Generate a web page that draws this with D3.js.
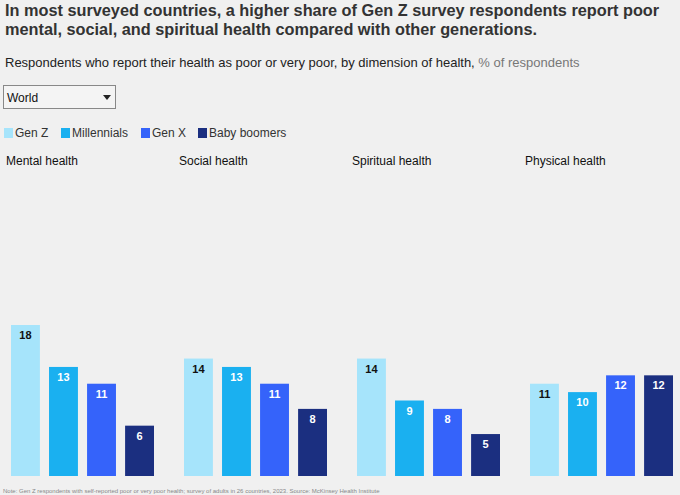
<!DOCTYPE html>
<html><head><meta charset="utf-8">
<script src="https://cdn.jsdelivr.net/npm/d3@7"></script>
<style>
body{margin:0;background:#f0f0f0;font-family:"Liberation Sans",Arial,sans-serif;}
</style></head>
<body><svg width="680" height="495"></svg>
<script>
// data
var dimensions = ["Mental health", "Social health", "Spiritual health", "Physical health"];
var generations = ["Gen Z", "Millennials", "Gen X", "Baby boomers"];
var colors = ["#a6e4fb", "#1ab0f0", "#3563fa", "#1b2f80"];
var genZ = [18, 14, 14, 11];
var millennials = [13, 13, 9, 10];
var genX = [11, 11, 8, 12];
var boomers = [6, 8, 5, 12];

var series = [genZ, millennials, genX, boomers];

var svg = d3.select("svg");

svg.append("text").attr("x", 5).attr("y", 16)
    .attr("font-size", 16.3).attr("font-weight", "bold").attr("fill", "#333")
    .text("In most surveyed countries, a higher share of Gen Z survey respondents report poor");
svg.append("text").attr("x", 5).attr("y", 35)
    .attr("font-size", 16.3).attr("font-weight", "bold").attr("fill", "#333")
    .text("mental, social, and spiritual health compared with other generations.");

var sub = svg.append("text").attr("x", 5).attr("y", 67).attr("font-size", 13).attr("fill", "#222");
sub.append("tspan").text("Respondents who report their health as poor or very poor, by dimension of health, ");
sub.append("tspan").attr("fill", "#777").text("% of respondents");

// dropdown
svg.append("rect").attr("x", 3.5).attr("y", 85.5).attr("width", 112).attr("height", 23)
    .attr("fill", "#f4f4f4").attr("stroke", "#888");
svg.append("text").attr("x", 7).attr("y", 102).attr("font-size", 12).attr("fill", "#111").text("World");
svg.append("path").attr("d", "M103,95 L111,95 L107,100 Z").attr("fill", "#222");

// legend
var lx = [4, 61, 141, 198];
generations.forEach(function (g, i) {
    svg.append("rect").attr("x", lx[i]).attr("y", 128).attr("width", 9).attr("height", 10).attr("fill", colors[i]);
    svg.append("text").attr("x", lx[i] + 11).attr("y", 137).attr("font-size", 12).attr("fill", "#333").text(g);
});

var y = d3.scaleLinear().domain([0, 18]).range([476, 325]);
var px = d3.scaleBand().domain(dimensions).range([5, 697]).paddingInner(0);
var bx = d3.scaleBand().domain(generations).range([6, 149]).paddingInner(0.24).paddingOuter(0);

dimensions.forEach(function (dim, d) {
    var g = svg.append("g").attr("transform", "translate(" + px(dim) + ",0)");
    g.append("text").attr("x", 1).attr("y", 165).attr("font-size", 12).attr("fill", "#111").text(dim);
    generations.forEach(function (gen, i) {
        var v = series[i][d];
        g.append("rect").attr("x", bx(gen)).attr("y", y(v))
            .attr("width", bx.bandwidth()).attr("height", y(0) - y(v)).attr("fill", colors[i]);
        g.append("text").attr("x", bx(gen) + bx.bandwidth() / 2).attr("y", y(v) + 14)
            .attr("text-anchor", "middle").attr("font-size", 11).attr("font-weight", "bold")
            .attr("fill", i === 0 ? "#111" : "#fff").text(v);
    });
});

svg.append("text").attr("x", 3).attr("y", 493).attr("font-size", 6).attr("fill", "#888")
    .text("Note: Gen Z respondents with self-reported poor or very poor health; survey of adults in 26 countries, 2023. Source: McKinsey Health Institute");
</script></body></html>
